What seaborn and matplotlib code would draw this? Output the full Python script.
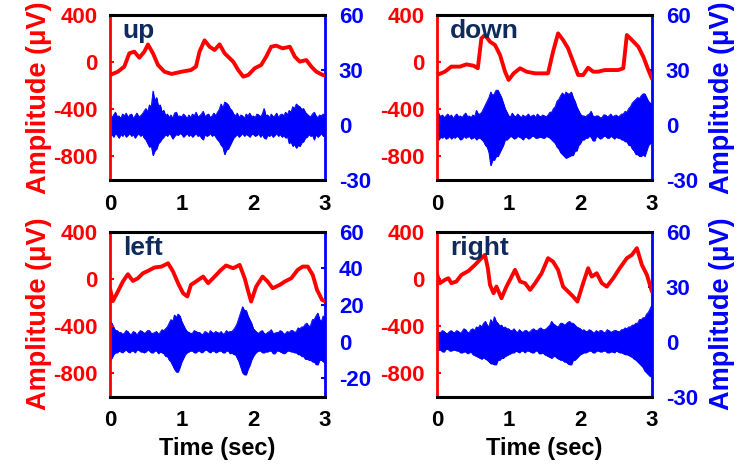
import numpy as np
import pandas as pd
import matplotlib
matplotlib.use("Agg")
import matplotlib.pyplot as plt
import seaborn as sns

# ---------------- data ----------------
panel_names = ["up", "down", "left", "right"]

# red traces (EOG), time in s, amplitude in uV
up_t = [0.0, 0.11, 0.2, 0.27, 0.34, 0.41, 0.48, 0.53, 0.6, 0.67, 0.76, 0.86, 1.0, 1.13, 1.2,
        1.25, 1.32, 1.39, 1.46, 1.53, 1.6, 1.72, 1.79, 1.86, 1.93, 2.02, 2.11, 2.18, 2.25,
        2.32, 2.41, 2.51, 2.58, 2.65, 2.74, 2.81, 2.88, 2.97, 3.0]
up_v = [-109, -81, -38, 75, 89, 38, 89, 150, 75, -24, -81, -100, -81, -67, -38,
        89, 185, 131, 103, 151, 75, 4, -67, -123, -109, -52, -24, 46, 131,
        140, 117, 131, 46, 4, 18, -38, -81, -109, -112]

down_t = [0.0, 0.11, 0.2, 0.32, 0.41, 0.51, 0.57, 0.62, 0.67, 0.74, 0.81, 0.88, 0.95, 1.0,
          1.07, 1.16, 1.25, 1.37, 1.48, 1.55, 1.62, 1.69, 1.76, 1.83, 1.9, 1.97, 2.04, 2.11,
          2.18, 2.25, 2.34, 2.44, 2.53, 2.6, 2.65, 2.72, 2.81, 2.88, 2.95, 3.0]
down_v = [-109, -81, -38, -38, -19, -30, -52, 202, 230, 174, 145, 61, -81, -151,
          -95, -52, -81, -95, -95, -95, 89, 244, 188, 117, 4, -109, -109, -47,
          -81, -81, -67, -67, -67, -52, 230, 188, 131, 46, -67, -140]

left_t = [0.0, 0.04, 0.11, 0.18, 0.25, 0.32, 0.39, 0.46, 0.53, 0.62, 0.72, 0.81, 0.88, 0.95,
          1.02, 1.08, 1.13, 1.2, 1.3, 1.37, 1.46, 1.55, 1.62, 1.72, 1.81, 1.88, 1.93, 1.97,
          2.04, 2.13, 2.2, 2.27, 2.37, 2.44, 2.53, 2.62, 2.69, 2.76, 2.83, 2.89, 2.96, 3.0]
left_v = [-80, -190, -109, -24, 38, -19, 4, 46, 66, 95, 103, 131, 61, -38,
          -123, -151, -52, -24, 18, -38, 18, 75, 112, 89, 117, 4, -109, -194,
          -67, 18, -24, -81, -52, -24, 4, 75, 103, 103, 32, -95, -180, -191]

right_t = [0.0, 0.04, 0.11, 0.16, 0.2, 0.27, 0.34, 0.44, 0.53, 0.62, 0.67, 0.71, 0.74, 0.79,
           0.83, 0.9, 0.97, 1.09, 1.16, 1.23, 1.3, 1.37, 1.46, 1.55, 1.62, 1.69, 1.76, 1.83,
           1.9, 1.96, 2.04, 2.11, 2.16, 2.23, 2.3, 2.37, 2.46, 2.55, 2.65, 2.72, 2.79, 2.86,
           2.93, 3.0]
right_v = [40, -38, -10, 4, -38, -24, 32, 66, 117, 174, 202, 89, -52, -123,
           -67, -166, -67, 75, -24, -38, -95, -38, 46, 174, 145, 75, -67, -109,
           -151, -194, -38, 89, 18, 46, -38, -67, 4, 89, 174, 202, 259, 117,
           32, -110]

# blue traces (EMG): upper / lower extremes every 0.025 s, in uV
up_emg_hi = [6, 4, 5.5, 7, 4.5, 5, 3.5, 6, 5, 6.5,
             4, 5.5, 6, 3.5, 5, 6.5, 4.5, 5, 6, 7.5,
             9, 7, 11, 9.5, 18.5, 13, 15, 10, 11, 7,
             8, 5, 6, 4, 5.5, 3.5, 6.5, 7, 4.5, 5,
             4.5, 6, 5, 3.5, 5.5, 4, 6, 5, 7, 4.5,
             5, 6, 7.5, 4.5, 5.5, 6, 4, 5, 6.5, 5,
             7, 8.5, 11.5, 9, 12.5, 12, 11, 9, 8, 6,
             5, 6.5, 4, 5.5, 5, 3.5, 6, 5, 6.5, 4.5,
             5, 4, 6, 5.5, 4.5, 6, 9, 5, 5.5, 4,
             6, 4.5, 5, 6.5, 4, 5.5, 6, 5, 7, 5.5,
             8, 7, 10, 9, 11.5, 10.5, 10, 8.5, 9, 7,
             6, 5, 4.5, 6, 7, 5, 4, 5.5, 5, 6,
             5]
up_emg_lo = [-6, -5, -6.5, -4.5, -5.5, -7, -5, -6, -4.5, -6.5,
             -5.5, -4.5, -6, -5, -7, -5.5, -4.5, -6, -5, -7,
             -8, -10, -12, -11, -16.5, -14, -13, -10, -9, -7.5,
             -6.5, -5, -6, -4.5, -5.5, -7.5, -6, -5, -5.5, -4.5,
             -5, -6.5, -5.5, -4.5, -6, -5, -6.5, -5.5, -4.5, -6,
             -5.5, -7, -8, -5, -6, -5.5, -4.5, -6, -5, -6.5,
             -8, -9, -11, -12, -16, -13.5, -13, -11, -9, -7,
             -6, -5, -6.5, -5.5, -4.5, -6, -5, -5.5, -6.5, -5,
             -5, -6, -5.5, -4.5, -6.5, -5, -7, -7.5, -5.5, -6,
             -5, -6.5, -5.5, -4.5, -6, -5, -6.5, -5.5, -7, -6,
             -10, -9, -11.5, -10.5, -12.5, -11, -11.5, -9.5, -9, -7,
             -6.5, -5, -6, -5.5, -8, -5, -6.5, -5.5, -4.5, -6,
             -6]

down_emg_hi = [9, 6, 4.5, 5.5, 4, 5, 6, 4.5, 5.5, 3.5,
               5, 6, 4.5, 5, 4, 5.5, 6.5, 4.5, 5, 4,
               5.5, 4.5, 8, 6, 6, 7, 9, 11, 13, 15,
               18, 16, 17, 19, 19, 17, 15, 12, 9, 7,
               5, 4.5, 6.5, 5, 4.5, 6, 5, 4, 5.5, 4.5,
               5, 6, 4.5, 5, 5.5, 4, 6, 5, 4.5, 5.5,
               5, 4.5, 5.5, 7, 7, 9, 10, 13, 14, 16,
               17.5, 16, 18, 17, 17, 18, 15, 13, 10, 8,
               6, 5, 5, 4.5, 5.5, 6, 7.5, 5, 4.5, 5,
               5, 4, 4, 5.5, 5.5, 4.5, 5, 6, 4.5, 5,
               5.5, 4.5, 5, 6, 6, 7.5, 7, 9, 10, 12,
               13, 14, 15, 14.5, 16, 17, 17, 15, 13, 12,
               11]
down_emg_lo = [-7, -8, -6.5, -7, -6, -7.5, -7, -6, -7.5, -6.5,
               -7, -6, -6.5, -8, -7.5, -6, -7, -6.5, -6, -7.5,
               -7, -6.5, -8, -7, -7, -8, -9, -11, -12, -15,
               -22, -19, -19, -17, -17, -15, -13, -11, -8, -8,
               -7, -6, -6.5, -7.5, -7, -6, -6.5, -7, -8, -6.5,
               -6.5, -7.5, -7, -6, -6, -7, -7, -6.5, -6.5, -7,
               -7, -6, -6.5, -7, -8, -9, -10, -12, -13, -15,
               -16, -17, -18, -17.5, -17, -16.5, -16.5, -14, -14, -11,
               -10, -8, -8, -7, -7, -6, -6.5, -8.5, -8.5, -6,
               -6.5, -7.5, -7, -6, -6, -7, -7, -6, -6.5, -7.5,
               -6.5, -7, -7, -8, -8, -9, -9, -11, -11, -13,
               -14, -16, -16, -17, -17, -16, -17, -14, -11, -10,
               -9]

left_emg_hi = [12, 10, 8, 6, 6, 5, 5, 4, 4.5, 6,
               5.5, 4, 4, 5.5, 5, 3.5, 5, 6, 5.5, 4.5,
               5, 6, 6, 4.5, 4.5, 5, 5.5, 4, 5, 6.5,
               6, 7, 8, 10, 12, 11, 14.5, 13, 15, 14,
               11, 9, 7, 5.5, 5, 4.5, 4.5, 6, 5.5, 5,
               5, 4, 4, 5.5, 5, 4, 6, 5, 4.5, 5.5,
               5, 4.5, 5.5, 4, 4.5, 6, 5, 5.5, 5.5, 6.5,
               8, 10, 13, 16, 19, 17, 17, 14, 12, 10,
               7, 6, 5, 4.5, 5.5, 6, 4.5, 4, 5, 5.5,
               6.5, 4.5, 4.5, 5, 5, 6, 5.5, 4, 4.5, 5.5,
               5, 6, 6, 5, 5.5, 7.5, 7, 8, 8, 9.5,
               10, 8, 9, 12, 12, 14, 15.5, 12, 11, 14,
               13]
left_emg_lo = [-10.5, -9, -7, -6, -6, -5, -5.5, -6, -5, -4.5,
               -5.5, -6, -5, -5, -6, -4.5, -4.5, -5.5, -5.5, -6,
               -5.5, -4.5, -5, -6, -6, -5, -5, -6.5, -5.5, -6,
               -6.5, -8, -8, -10, -11, -13, -15, -16.5, -16.5, -14,
               -11, -9, -7, -6, -5.5, -5, -5, -6, -6, -5,
               -5, -6, -5.5, -4.5, -4.5, -5.5, -6, -5, -5, -6,
               -5.5, -5, -5, -6, -6, -5, -5, -6.5, -6, -7,
               -7, -9, -11, -14, -17, -18, -18, -15, -13, -10,
               -8, -6.5, -5.5, -5, -5, -6, -6, -5.5, -5.5, -5,
               -5, -6.5, -6.5, -5, -5, -5.5, -6, -6.5, -6, -5,
               -5, -5.5, -5.5, -6, -6, -7, -7, -8, -8, -9.5,
               -9.5, -10, -10, -11, -11, -12.5, -12.5, -10, -10, -11,
               -11]

right_emg_hi = [6, 5, 5, 6, 5.5, 4.5, 4.5, 5.5, 6, 5,
                5, 6, 5.5, 4.5, 5.5, 7, 6.5, 5, 5, 6.5,
                7, 6, 8, 7.5, 9, 8, 10, 11, 9, 8,
                12, 10, 13.5, 11, 10, 8.5, 9, 7.5, 8, 7,
                7, 6, 6, 7, 5.5, 5, 6.5, 5.5, 5, 6,
                6, 5, 5.5, 6.5, 7, 6, 6, 7, 7.5, 6.5,
                6.5, 7, 8, 9, 11, 9.5, 9, 8, 8.5, 10,
                10, 9, 9.5, 10.5, 11, 10, 10, 9, 8, 7.5,
                7, 6, 6.5, 5.5, 5.5, 6.5, 6, 5, 5, 6,
                5, 6, 6, 5, 5, 6.5, 6, 5, 5.5, 6,
                6, 5.5, 5.5, 6.5, 6.5, 7.5, 7, 8, 8, 9,
                9, 10, 10, 12, 12, 13, 13, 15, 16, 18,
                20]
right_emg_lo = [-5, -4.5, -4.5, -5.5, -5.5, -4, -4, -5, -5, -4.5,
                -4.5, -5, -5, -6, -6, -5.5, -5.5, -6.5, -6, -5.5,
                -7, -7.5, -8, -8.5, -9, -9.5, -8.5, -9.5, -10, -11,
                -12, -12, -12.5, -12.5, -10, -10, -9, -9, -8, -7.5,
                -7, -6.5, -6, -6, -5, -5.5, -6, -5, -5, -6,
                -5, -5, -5.5, -6, -6, -5, -5, -6.5, -6.5, -6,
                -7, -7.5, -8, -8.5, -9, -8, -8, -9, -9.5, -10,
                -10, -11, -11, -12, -12.5, -12.5, -10, -10, -9, -8,
                -7, -6.5, -6, -6, -5.5, -5, -5, -6, -6, -5,
                -5, -5.5, -5.5, -5, -5, -6, -6, -5.5, -5.5, -6,
                -5, -5.5, -6, -6, -6.5, -7, -7, -7.5, -8, -8.5,
                -9.5, -10, -11, -12, -13, -14, -16, -17, -18, -19,
                -19]

emg_grid = np.linspace(0, 3, 121)

eog_ticks = [-800, -400, 0, 400]
emg_ticks_default = [-30, 0, 30, 60]
emg_ticks_left = [-20, 0, 20, 40, 60]
x_ticks = [0, 1, 2, 3]

# ---------------- style ----------------
sns.set_style("white")
plt.rcParams["font.family"] = ["Liberation Sans", "DejaVu Sans"]
plt.rcParams["font.weight"] = "bold"
plt.rcParams["axes.labelweight"] = "bold"

RED = "#ff0000"
BLUE = "#0000ff"
NAVY = "#0f2a5c"
TICK_FS = 16
LABEL_FS = 19.5

fig = plt.figure(figsize=(7.41, 4.66), dpi=100)

W, H = 0.2901, 0.3541
positions = {
    "up": [0.1484, 0.6137, W, H],
    "down": [0.5897, 0.6137, W, H],
    "left": [0.1484, 0.149, W, H],
    "right": [0.5897, 0.149, W, H],
}

eog = {
    "up": (up_t, up_v), "down": (down_t, down_v),
    "left": (left_t, left_v), "right": (right_t, right_v),
}
emg = {
    "up": (up_emg_hi, up_emg_lo), "down": (down_emg_hi, down_emg_lo),
    "left": (left_emg_hi, left_emg_lo), "right": (right_emg_hi, right_emg_lo),
}


def draw_panel(name):
    ax = fig.add_axes(positions[name])
    ax2 = ax.twinx()

    # blue EMG band between the extremes
    hi, lo = emg[name]
    ax2.fill_between(emg_grid, lo, hi, color=BLUE, lw=0.6, edgecolor=BLUE)
    df_emg = pd.DataFrame({"t": emg_grid, "hi": hi, "lo": lo})
    sns.lineplot(data=df_emg, x="t", y="hi", ax=ax2, color=BLUE, lw=0.6,
                 estimator=None, sort=False)
    sns.lineplot(data=df_emg, x="t", y="lo", ax=ax2, color=BLUE, lw=0.6,
                 estimator=None, sort=False)

    # red EOG
    et, ev = eog[name]
    df_eog = pd.DataFrame({"t": et, "v": ev})
    sns.lineplot(data=df_eog, x="t", y="v", ax=ax, color=RED, lw=2.8,
                 estimator=None, sort=False)
    ax.set_zorder(ax2.get_zorder() + 1)
    ax.patch.set_visible(False)

    ax.set_xlim(0, 3)
    ax.set_ylim(-1000, 400)
    ax2.set_ylim(-30, 60)
    ax.set_xticks(x_ticks)
    ax.set_xticklabels([str(x) for x in x_ticks])
    ax.set_yticks(eog_ticks)
    ax.set_yticklabels([str(x) for x in eog_ticks])
    bt = emg_ticks_left if name == "left" else emg_ticks_default
    ax2.set_yticks(bt)
    ax2.set_yticklabels([str(x) for x in bt])

    ax.tick_params(axis="x", direction="in", length=3, width=1.5, colors="black",
                   labelsize=TICK_FS, pad=10, top=False)
    ax.tick_params(axis="y", direction="in", length=3, width=1.5, colors=RED,
                   labelsize=TICK_FS, pad=9)
    ax2.tick_params(axis="y", direction="in", length=3, width=1.5, colors=BLUE,
                    labelsize=TICK_FS, pad=10)
    for lab in ax.get_xticklabels() + ax.get_yticklabels() + ax2.get_yticklabels():
        lab.set_fontweight("bold")

    # spines
    for s in ax.spines.values():
        s.set_visible(True)
    ax.spines["left"].set_color(RED)
    ax.spines["left"].set_linewidth(2.0)
    ax.spines["top"].set_color("black")
    ax.spines["top"].set_linewidth(2.2)
    ax.spines["bottom"].set_color("black")
    ax.spines["bottom"].set_linewidth(2.2)
    ax.spines["right"].set_visible(False)
    for k in ["left", "top", "bottom"]:
        ax2.spines[k].set_visible(False)
    ax2.spines["right"].set_visible(True)
    ax2.spines["right"].set_color(BLUE)
    ax2.spines["right"].set_linewidth(2.0)

    ax.set_xlabel("")
    ax.set_ylabel("")
    ax2.set_ylabel("")

    if name in ("up", "left"):
        ax.set_ylabel("Amplitude (\u03bcV)", color=RED, fontsize=LABEL_FS,
                      fontweight="bold")
        ax.yaxis.set_label_coords(-0.27, 0.5)
    else:
        ax2.set_ylabel("Amplitude (\u03bcV)", color=BLUE, fontsize=LABEL_FS,
                       fontweight="bold", rotation=90)
        ax2.yaxis.set_label_coords(1.265, 0.5)

    if name in ("left", "right"):
        ax.set_xlabel("Time (sec)", fontsize=17, fontweight="bold", color="black")
        ax.xaxis.set_label_coords(0.5, -0.245)

    ax.text(0.06, 0.975, name, transform=ax.transAxes, ha="left", va="top",
            fontsize=19, fontweight="bold", color=NAVY, zorder=10)


for nm in panel_names:
    draw_panel(nm)

fig.savefig("out.png", dpi=100)
